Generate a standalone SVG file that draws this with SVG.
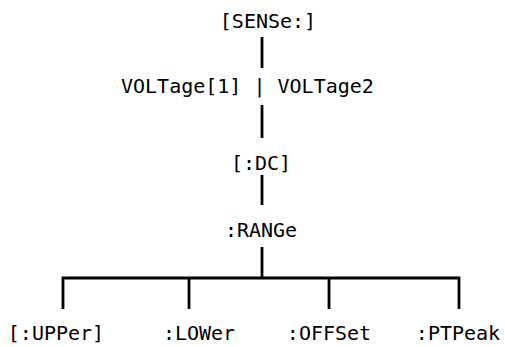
<svg xmlns="http://www.w3.org/2000/svg" width="505" height="347" viewBox="0 0 505 347">
<style>
text{font-family:"DejaVu Sans Mono","Liberation Mono",monospace;font-size:20px;fill:#000;text-anchor:middle}
.c{stroke:#000;stroke-width:2.8;fill:none}
</style>
<rect width="505" height="347" fill="#fff"/>
<g id="connectors">
<line class="c" x1="262" y1="37" x2="262" y2="68"/>
<line class="c" x1="262" y1="105" x2="262" y2="138"/>
<line class="c" x1="262" y1="175" x2="262" y2="205"/>
<line class="c" x1="262" y1="247" x2="262" y2="278"/>
<polyline class="c" points="63,309 63,278 459,278 459,309"/>
<line class="c" x1="189" y1="278" x2="189" y2="309"/>
<line class="c" x1="329" y1="278" x2="329" y2="309"/>
</g>
<g id="sense"><text x="268" y="28">[SENSe:]</text></g>
<g id="voltage"><text x="121" y="93" style="text-anchor:start">VOLTage[1] | VOLTage2</text></g>
<g id="dc"><text x="261" y="170">[:DC]</text></g>
<g id="range"><text x="261" y="237">:RANGe</text></g>
<g id="upper"><text x="56" y="340">[:UPPer]</text></g>
<g id="lower"><text x="199" y="340">:LOWer</text></g>
<g id="offset"><text x="329" y="340">:OFFSet</text></g>
<g id="ptpeak"><text x="458" y="340">:PTPeak</text></g>
</svg>
